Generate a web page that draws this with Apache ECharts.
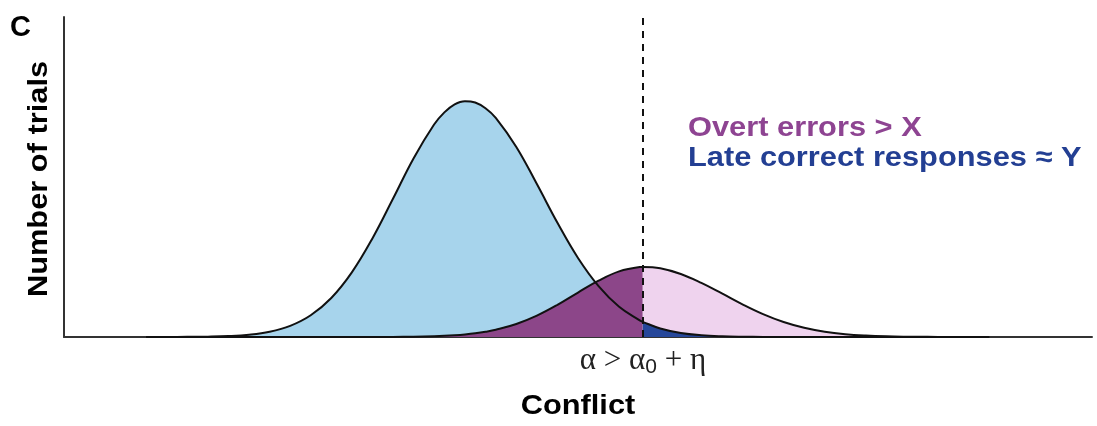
<!DOCTYPE html>
<html>
<head>
<meta charset="utf-8">
<script src="https://cdn.jsdelivr.net/npm/echarts@6/dist/echarts.min.js"></script>
<style>
html,body{margin:0;padding:0;background:#fff;}
#chart{width:1097px;height:426px;}
</style>
</head>
<body>
<div id="chart"></div>
<script>
// Conflict sample positions (arbitrary units 0..100)
const conflict = [8,10,12,14,16,18,20,22,24,26,28,30,32,34,36,37,38,39,40,41,42,44,46,48,50,52,54,56,56.3,58,60,62,64,66,68,70,72,74,76,78,80,82,84,86,88,90];
// Correct-response trials (blue distribution)
const correctTrials = [0,0.01,0.04,0.10,0.28,0.71,1.64,3.48,6.79,12.2,20.2,30.8,43.2,55.8,66.4,70.2,72.7,73.7,73.3,71.5,68.5,59.4,47.8,35.7,24.7,15.9,9.45,5.22,4.74,2.68,1.27,0.56,0.23,0.09,0.03,0.01,0,0,0,0,0,0,0,0,0,0];
// Error trials (pink distribution)
const errorTrials = [0,0,0,0,0,0,0,0,0,0,0,0.01,0.03,0.09,0.24,0.36,0.55,0.81,1.16,1.64,2.27,4.06,6.67,10.05,13.9,17.6,20.5,21.84,21.89,21.5,19.7,16.9,13.6,10.2,7.14,4.67,2.86,1.63,0.87,0.44,0.20,0.09,0.04,0.01,0,0];
const threshold = 56.3;
const legendLines = ['Overt errors > X', 'Late correct responses \u2248 Y'];
const xName = 'Conflict';
const yName = 'Number of trials';
const panelLetter = 'C';

const pairs = ys => conflict.map((x, i) => [x, ys[i]]);
const blueAll = pairs(correctTrials);
const pinkAll = pairs(errorTrials);
const pinkLeft = pinkAll.filter(p => p[0] <= threshold);
const pinkRight = pinkAll.filter(p => p[0] >= threshold);
const blueRight = blueAll.filter(p => p[0] >= threshold);

const SM = 0.4;
const areaSeries = (data, color) => ({
  type: 'line', data, smooth: SM, showSymbol: false, silent: true,
  lineStyle: { width: 0 }, areaStyle: { color, opacity: 1 }
});
const outline = data => ({
  type: 'line', data, smooth: SM, showSymbol: false, silent: true,
  lineStyle: { color: '#111', width: 2 }
});
const boldFont = 'bold 28px "Liberation Sans", Arial, sans-serif';

const chart = echarts.init(document.getElementById('chart'), null, { renderer: 'canvas' });
chart.setOption({
  animation: false,
  backgroundColor: '#fff',
  grid: { left: 64, right: 5, top: 17, bottom: 89 },
  xAxis: {
    type: 'value', min: 0, max: 100,
    axisLine: { show: true, onZero: false, lineStyle: { color: '#333', width: 2 } },
    axisTick: { show: false }, axisLabel: { show: false }, splitLine: { show: false }
  },
  yAxis: {
    type: 'value', min: 0, max: 100,
    axisLine: { show: true, onZero: false, lineStyle: { color: '#333', width: 2 } },
    axisTick: { show: false }, axisLabel: { show: false }, splitLine: { show: false }
  },
  series: [
    areaSeries(blueAll, '#a7d4ec'),
    areaSeries(pinkLeft, '#8c4689'),
    areaSeries(pinkRight, '#efd3ee'),
    areaSeries(blueRight, '#26479a'),
    outline(blueAll),
    outline(pinkAll),
    {
      type: 'line', data: [], silent: true,
      markLine: {
        symbol: 'none', silent: true, animation: false,
        label: { show: false },
        lineStyle: { type: [7, 6], color: '#111', width: 2 },
        data: [{ xAxis: threshold }]
      }
    }
  ],
  graphic: [
    { type: 'text', x: 10, y: 28, style: { text: panelLetter, font: 'bold 29px "Liberation Sans", Arial, sans-serif', fill: '#000', textAlign: 'left', textVerticalAlign: 'middle' } },
    { type: 'text', x: 39, y: 179, rotation: Math.PI / 2, scaleX: 1.1, style: { text: yName, font: boldFont, fill: '#000', textAlign: 'center', textVerticalAlign: 'middle' } },
    { type: 'text', x: 578, y: 406, scaleX: 1.1, style: { text: xName, font: boldFont, fill: '#000', textAlign: 'center', textVerticalAlign: 'middle' } },
    { type: 'text', x: 688, y: 128, scaleX: 1.1, style: { text: legendLines[0], font: boldFont, fill: '#8e4492', textAlign: 'left', textVerticalAlign: 'middle' } },
    { type: 'text', x: 688, y: 158, scaleX: 1.1, style: { text: legendLines[1], font: boldFont, fill: '#233f93', textAlign: 'left', textVerticalAlign: 'middle' } },
    { type: 'text', x: 643, y: 361, style: {
        text: '{a|\u03b1 > \u03b1}{s|0}{a| + \u03b7}',
        textAlign: 'center', textVerticalAlign: 'middle',
        rich: {
          a: { font: '31px "Liberation Serif", "DejaVu Serif", serif', fill: '#222', lineHeight: 34, verticalAlign: 'middle' },
          s: { font: '21px "Liberation Sans", Arial, sans-serif', fill: '#222', lineHeight: 21, verticalAlign: 'bottom' }
        }
    } }
  ]
});
</script>
</body>
</html>
